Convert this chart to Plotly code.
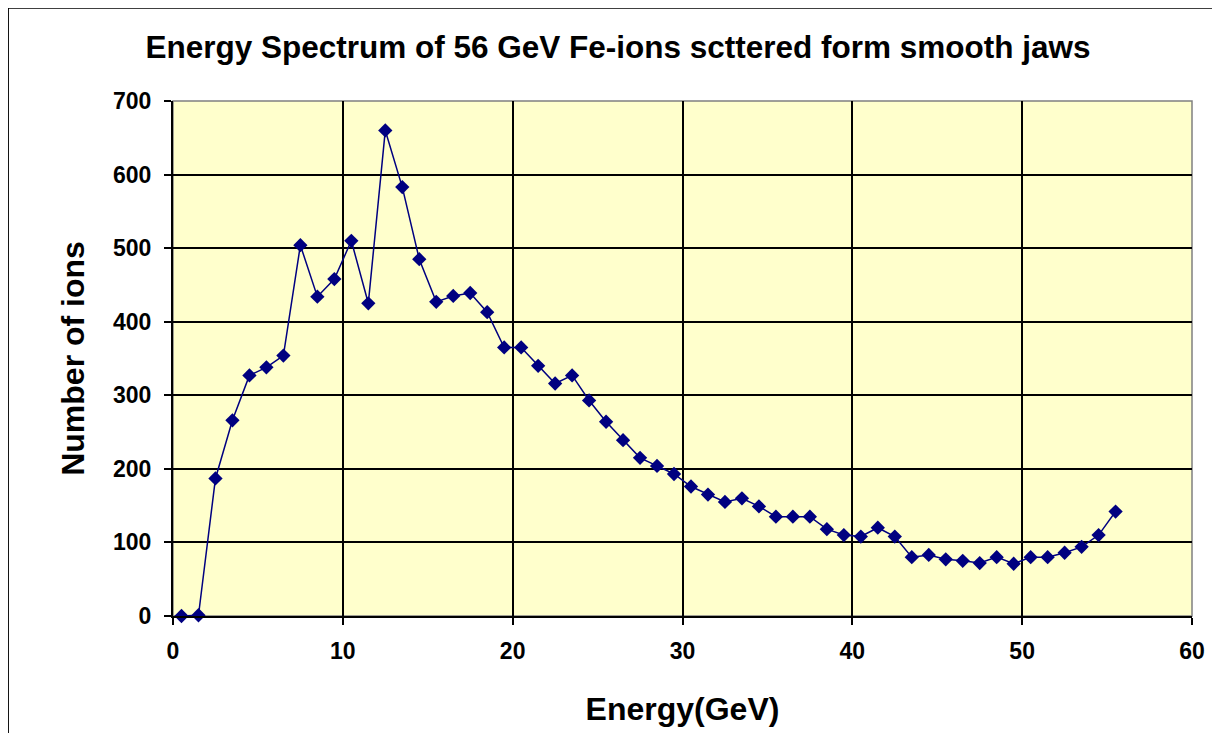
import plotly.graph_objects as go

# energy bin centres (GeV) and counts
energy = [0.5 + i for i in range(56)]
ions = [0, 1, 187, 266, 327, 338, 354, 504, 434, 458,
        510, 425, 660, 583, 485, 427, 435, 439, 413, 365,
        365, 340, 316, 327, 293, 264, 239, 215, 204, 193,
        176, 165, 155, 160, 149, 135, 135, 135, 118, 110,
        108, 120, 108, 80, 83, 77, 75, 72, 80, 71,
        80, 80, 86, 94, 110, 142]

x_ticks = [0, 10, 20, 30, 40, 50, 60]
y_ticks = [0, 100, 200, 300, 400, 500, 600, 700]

NAVY = "#000080"
FONT = "Liberation Sans, Arial, sans-serif"

fig = go.Figure()
fig.add_trace(go.Scatter(
    x=energy, y=ions, mode="lines+markers",
    line=dict(color=NAVY, width=1.5),
    marker=dict(symbol="diamond", size=11, color=NAVY),
    showlegend=False, cliponaxis=False,
))

# page body has an 8px margin, so the layout is shifted up/left by 8px
fig.update_layout(
    width=1220, height=733,
    margin=dict(l=165, r=36, t=93, b=125),
    paper_bgcolor="white", plot_bgcolor="#FFFFCC",
    font=dict(family=FONT, color="black"),
    title=dict(text="<b>Energy Spectrum of 56 GeV Fe-ions scttered form smooth jaws</b>",
               x=0.5, xanchor="center", y=0.947, yanchor="middle",
               font=dict(size=31.5)),
    shapes=[
        # chart frame (no bottom edge visible)
        dict(type="line", xref="paper", yref="paper", x0=-0.162, x1=-0.162, y0=1.181, y1=-0.3,
             line=dict(color="black", width=2)),
        dict(type="line", xref="paper", yref="paper", x0=-0.162, x1=1.0216, y0=1.181, y1=1.181,
             line=dict(color="black", width=2)),
        dict(type="line", xref="paper", yref="paper", x0=1.0216, x1=1.0216, y0=1.181, y1=-0.3,
             line=dict(color="black", width=2)),
        # plot area border
        dict(type="rect", xref="paper", yref="paper", x0=0, x1=1, y0=0, y1=1,
             line=dict(color="#808080", width=1.5), layer="below"),
    ],
)

fig.update_xaxes(
    range=[0, 60], tickvals=x_ticks, ticks="outside", ticklen=7, tickwidth=1.5,
    tickcolor="black", showline=True, linecolor="black", linewidth=2,
    showgrid=True, gridcolor="black", gridwidth=1.5, zeroline=False,
    tickfont=dict(size=23, family=FONT, weight="bold"), ticklabelstandoff=6,
    title=dict(text="<b>Energy(GeV)</b>", font=dict(size=32), standoff=35),
)
fig.update_yaxes(
    range=[0, 700], tickvals=y_ticks, ticks="outside", ticklen=7, tickwidth=1.5,
    tickcolor="black", showline=True, linecolor="black", linewidth=2,
    showgrid=True, gridcolor="black", gridwidth=1.5, zeroline=False,
    tickfont=dict(size=23, family=FONT, weight="bold"), ticklabelstandoff=8,
    title=dict(text="<b>Number of ions</b>", font=dict(size=32), standoff=19),
)

fig.write_html("out.html")
